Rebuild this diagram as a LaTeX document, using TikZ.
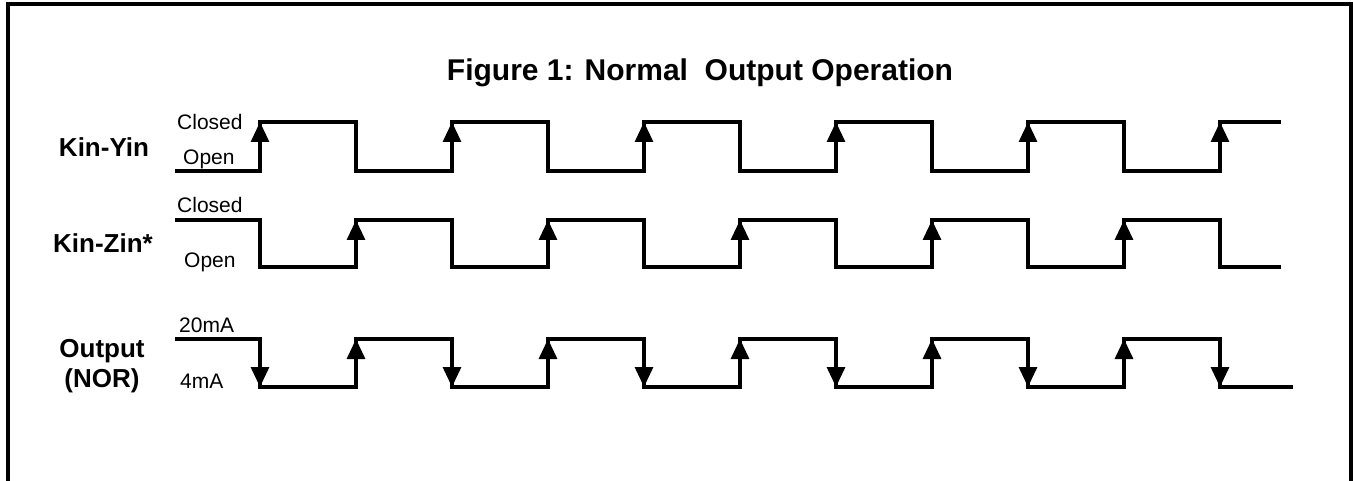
\documentclass[tikz,border=0pt]{standalone}
\usepackage{fontspec}
\setmainfont{Liberation Sans}
\usetikzlibrary{arrows.meta}

\begin{document}
\begin{tikzpicture}[x=1pt,y=-1pt,line join=miter,
		wave/.style={line width=3.2pt},
		rise/.style={line width=3.2pt,-{Triangle[width=18pt,length=20pt]}},
		signame/.style={font=\fontsize{26}{28}\selectfont\bfseries,anchor=base,inner sep=0pt},
		lvl/.style={font=\fontsize{21}{23}\selectfont,anchor=base west,inner sep=0pt}]
	\useasboundingbox (0,0) rectangle (1353,481);
	% frame, open at the bottom
	\coordinate (FL) at (8,481);
	\coordinate (FR) at (1351,481);
	\draw[line width=3.5pt] (FL) |- (1351,4) -- (FR);
	\node[font=\fontsize{30}{32}\selectfont\bfseries,anchor=base] (title) at (700,81) {Figure 1: Normal\ \ Output Operation};
	% signal names
	\node[signame] (yin) at (104,157) {Kin-Yin};
	\node[signame] (zin) at (103,253) {Kin-Zin*};
	\node[signame] (out) at (102,357) {Output};
	\node[signame] (nor) at (102,387) {(NOR)};
	% levels
	\node[lvl] (yin-c) at (177,130) {Closed};
	\node[lvl] (yin-o) at (183,165) {Open};
	\node[lvl] (zin-c) at (177,213) {Closed};
	\node[lvl] (zin-o) at (184,268) {Open};
	\node[lvl] (out-h) at (179,333) {20mA};
	\node[lvl] (out-l) at (180,388) {4mA};
	% Kin-Yin
	\draw[wave] (175,171) \foreach \x in {260,452,644,836,1028} {-- (\x,171) -- (\x,122) -- (\x+96,122) -- (\x+96,171)} -- (1220,171) -- (1220,122) -- (1281,122);
	\foreach \x in {260,452,644,836,1028,1220}
		\draw[rise] (\x,171) -- (\x,122);
	% Kin-Zin*
	\draw[wave] (175,220) \foreach \x in {260,452,644,836,1028} {-- (\x,220) -- (\x,267) -- (\x+96,267) -- (\x+96,220)} -- (1220,220) -- (1220,267) -- (1281,267);
	\foreach \x in {356,548,740,932,1124}
		\draw[rise] (\x,267) -- (\x,220);
	% Output (NOR)
	\draw[wave] (175,339) \foreach \x in {260,452,644,836,1028} {-- (\x,339) -- (\x,387) -- (\x+96,387) -- (\x+96,339)} -- (1220,339) -- (1220,387) -- (1293,387);
	\foreach \x in {260,452,644,836,1028,1220}
		\draw[rise] (\x,339) -- (\x,387);
	\foreach \x in {356,548,740,932,1124}
		\draw[rise] (\x,387) -- (\x,339);
\end{tikzpicture}
\end{document}
